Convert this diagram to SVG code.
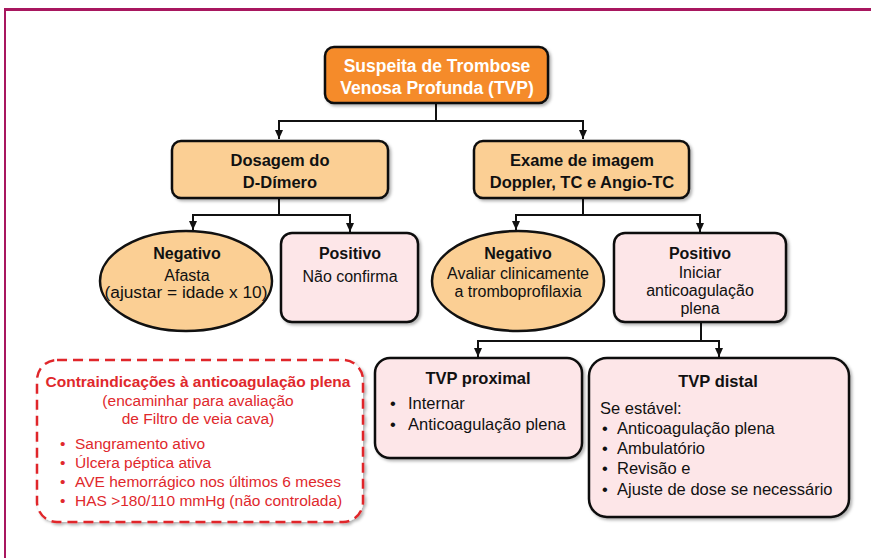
<svg xmlns="http://www.w3.org/2000/svg" width="871" height="558" viewBox="0 0 871 558">
<defs>
<style>
text{font-family:"Liberation Sans",Arial,sans-serif;fill:#111}
.b{font-weight:bold}
.c{text-anchor:middle}
.n{font-size:16px}
.w{fill:#fff;font-size:17.5px;font-weight:bold}
.r{fill:#e0282c;font-size:15.5px}
.box{stroke:#111;stroke-width:2.5}
.org{fill:#f58b2c}
.lo{fill:#fbcf94}
.pk{fill:#fde6e8}
.con{fill:none;stroke:#111;stroke-width:2;marker-end:url(#ah)}
</style>
<marker id="ah" markerUnits="userSpaceOnUse" markerWidth="8" markerHeight="9" refX="4" refY="9" orient="0" viewBox="0 0 8 9">
<path d="M0,0 L8,0 L4,9 z" fill="#111"/>
</marker>
<filter id="sh" x="-10%" y="-10%" width="125%" height="130%">
<feDropShadow dx="2" dy="2" stdDeviation="1.5" flood-color="#000" flood-opacity="0.3"/>
</filter>
</defs>
<rect width="871" height="558" fill="#fff"/>
<g id="frame" fill="none" stroke="#a8175f">
<line x1="4" y1="9.5" x2="871" y2="9.5" stroke-width="3"/>
<line x1="5" y1="9" x2="5" y2="558" stroke-width="2"/>
</g>
<g id="connectors">
<path class="con" d="M436,103 V121 H279 V139"/>
<path class="con" d="M436,121 H583 V139"/>
<path class="con" d="M279,198 V215 H193 V230"/>
<path class="con" d="M279,215 H350 V232"/>
<path class="con" d="M583,198 V215 H516 V230"/>
<path class="con" d="M583,215 H700 V232"/>
<path class="con" d="M701,322 V341 H478 V357"/>
<path class="con" d="M701,341 H719 V357"/>
</g>
<g id="suspeita">
<rect class="box org" x="325" y="47" width="223" height="56" rx="9" filter="url(#sh)"/>
<text class="w c" x="437" y="72">Suspeita de Trombose</text>
<text class="w c" x="437" y="94">Venosa Profunda (TVP)</text>
</g>
<g id="dosagem">
<rect class="box lo" x="172" y="141" width="216" height="57" rx="9" filter="url(#sh)"/>
<text class="b c" x="280" y="166" font-size="16.5">Dosagem do</text>
<text class="b c" x="280" y="188" font-size="16.5">D-Dímero</text>
</g>
<g id="exame">
<rect class="box lo" x="474" y="141" width="215" height="57" rx="9" filter="url(#sh)"/>
<text class="b c" x="582" y="166" font-size="16.5">Exame de imagem</text>
<text class="b c" x="582" y="188" font-size="16.5">Doppler, TC e Angio-TC</text>
</g>
<g id="negativo1">
<ellipse class="box lo" cx="186" cy="281" rx="86" ry="50" stroke-width="2"/>
<text class="b c n" x="187" y="259">Negativo</text>
<text class="c n" x="187" y="281" font-size="16.5">Afasta</text>
<text class="c n" x="186" y="298" font-size="16.5" textLength="163" lengthAdjust="spacingAndGlyphs">(ajustar = idade x 10)</text>
</g>
<g id="positivo1">
<rect class="box pk" x="281" y="233" width="137" height="89" rx="11" filter="url(#sh)"/>
<text class="b c n" x="350" y="259">Positivo</text>
<text class="c n" x="350" y="282" font-size="16.5">Não confirma</text>
</g>
<g id="negativo2">
<ellipse class="box lo" cx="518" cy="281" rx="86" ry="50" stroke-width="2"/>
<text class="b c n" x="518" y="259">Negativo</text>
<text class="c n" x="518" y="279">Avaliar clinicamente</text>
<text class="c n" x="518" y="297">a tromboprofilaxia</text>
</g>
<g id="positivo2">
<rect class="box pk" x="614" y="233" width="172" height="89" rx="11" filter="url(#sh)"/>
<text class="b c n" x="700" y="259">Positivo</text>
<text class="c n" x="700" y="278">Iniciar</text>
<text class="c n" x="700" y="296">anticoagulação</text>
<text class="c n" x="700" y="314">plena</text>
</g>
<g id="contraindicacoes">
<rect x="37" y="360" width="326" height="162" rx="20" fill="#fff" stroke="#e0282c" stroke-width="2.5" stroke-dasharray="10,6" filter="url(#sh)"/>
<text class="r b c" x="198" y="387">Contraindicações à anticoagulação plena</text>
<text class="r c" x="198" y="406">(encaminhar para avaliação</text>
<text class="r c" x="198" y="424">de Filtro de veia cava)</text>
<text class="r" x="60" y="449">•</text><text class="r" x="75" y="449">Sangramento ativo</text>
<text class="r" x="60" y="468">•</text><text class="r" x="75" y="468">Úlcera péptica ativa</text>
<text class="r" x="60" y="487">•</text><text class="r" x="75" y="487">AVE hemorrágico nos últimos 6 meses</text>
<text class="r" x="60" y="506">•</text><text class="r" x="75" y="506">HAS &gt;180/110 mmHg (não controlada)</text>
</g>
<g id="tvp-proximal">
<rect class="box pk" x="375" y="358" width="207" height="100" rx="15" filter="url(#sh)"/>
<text class="b c" x="478" y="384" font-size="16.5">TVP proximal</text>
<text x="390" y="409" font-size="16.5">•</text><text x="408" y="409" font-size="16.5">Internar</text>
<text x="390" y="430" font-size="16.5">•</text><text x="408" y="430" font-size="16.5">Anticoagulação plena</text>
</g>
<g id="tvp-distal">
<rect class="box pk" x="589" y="358" width="260" height="159" rx="18" filter="url(#sh)"/>
<text class="b c" x="718" y="387" font-size="16.5">TVP distal</text>
<text x="600" y="414" font-size="16.5">Se estável:</text>
<text x="602" y="434" font-size="16.5">•</text><text x="617" y="434" font-size="16.5">Anticoagulação plena</text>
<text x="602" y="454" font-size="16.5">•</text><text x="617" y="454" font-size="16.5">Ambulatório</text>
<text x="602" y="474" font-size="16.5">•</text><text x="617" y="474" font-size="16.5">Revisão e</text>
<text x="602" y="495" font-size="16.5">•</text><text x="617" y="495" font-size="16.5">Ajuste de dose se necessário</text>
</g>
</svg>
